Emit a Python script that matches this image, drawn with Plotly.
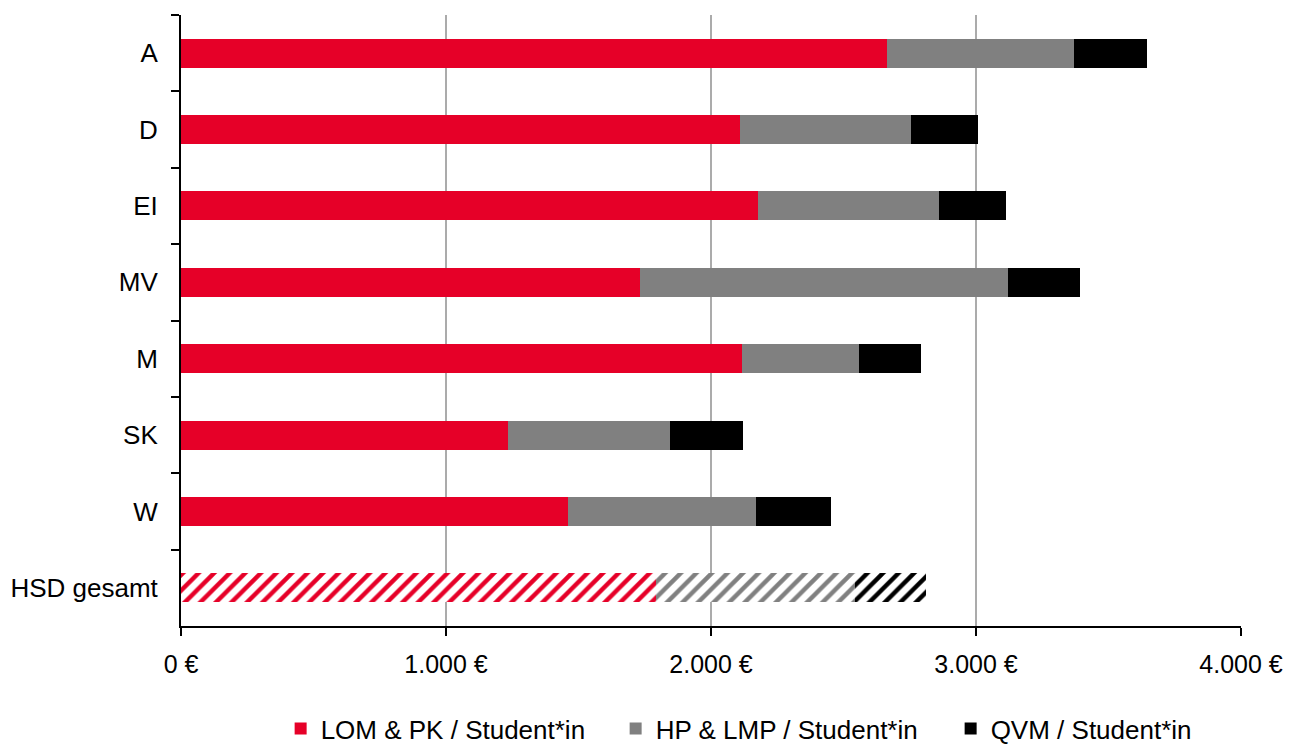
import plotly.graph_objects as go

# Kosten pro Student*in je Fachbereich (in €)
categories = ["A", "D", "EI", "MV", "M", "SK", "W"]
lom_pk = [2663, 2108, 2176, 1731, 2116, 1235, 1462]
hp_lmp = [706, 646, 684, 1391, 443, 609, 707]
qvm = [278, 254, 253, 271, 233, 275, 283]

total_label = "HSD gesamt"
total_values = [1791, 753, 269]

series_names = ["LOM & PK / Student*in", "HP & LMP / Student*in", "QVM / Student*in"]
colors = ["#E60028", "#808080", "#000000"]

tick_vals = [0, 1000, 2000, 3000, 4000]
tick_text = ["0 €", "1.000 €", "2.000 €", "3.000 €", "4.000 €"]

font_family = "Liberation Sans, Arial, sans-serif"

fig = go.Figure()

# Fachbereiche
for name, vals, col in zip(series_names, [lom_pk, hp_lmp, qvm], colors):
    fig.add_trace(go.Bar(
        name=name,
        y=categories,
        x=vals,
        orientation="h",
        marker=dict(color=col, line=dict(width=0)),
        width=0.38,
    ))

# HSD gesamt, schraffiert
for name, val, col in zip(series_names, total_values, colors):
    fig.add_trace(go.Bar(
        name=name,
        y=[total_label],
        x=[val],
        orientation="h",
        marker=dict(color="white", line=dict(width=0),
                    pattern=dict(shape="/", fgcolor=col, bgcolor="white",
                                 size=11, solidity=0.4, fillmode="replace")),
        width=0.38,
        showlegend=False,
    ))

# Seite hat 8px Rand, daher etwas kleinere Figur
fig.update_layout(
    barmode="stack",
    width=1284,
    height=738,
    plot_bgcolor="white",
    paper_bgcolor="white",
    font=dict(family=font_family, size=26, color="black"),
    margin=dict(l=173, r=51, t=7, b=120, autoexpand=False),
    legend=dict(orientation="h", x=0.094, xanchor="left", y=-0.168, yanchor="middle",
                font=dict(size=26), traceorder="normal",
                entrywidth=290, entrywidthmode="pixels"),
)

fig.update_xaxes(
    range=[0, 4000],
    tickvals=tick_vals,
    ticktext=tick_text,
    tickfont=dict(size=25),
    showgrid=True,
    gridcolor="#ababab",
    gridwidth=1.5,
    zeroline=False,
    showline=True,
    linecolor="black",
    linewidth=2,
    ticks="outside",
    ticklen=8,
    tickwidth=2,
    tickcolor="black",
    ticklabelstandoff=7,
    automargin=False,
)

fig.update_yaxes(
    categoryorder="array",
    categoryarray=categories + [total_label],
    autorange="reversed",
    showline=True,
    linecolor="black",
    linewidth=2,
    ticks="outside",
    tickson="boundaries",
    ticklen=8,
    tickwidth=2,
    tickcolor="black",
    showgrid=False,
    ticklabelstandoff=16,
    automargin=False,
)

fig.write_html("out.html")
